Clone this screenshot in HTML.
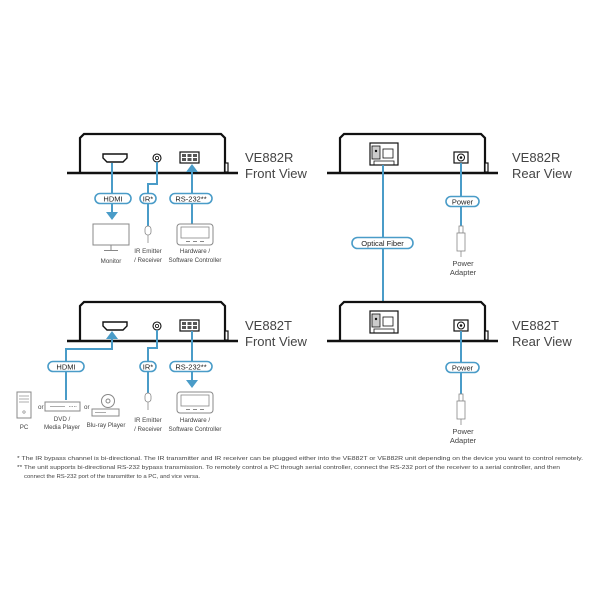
<!DOCTYPE html>
<html><head><meta charset="utf-8"><style>
html,body{margin:0;padding:0;background:#fff}
svg{display:block}
text{font-family:"Liberation Sans",Arial,sans-serif;fill:#333}
.b{stroke:#4a9cc8;stroke-width:2;fill:none}
.pill{fill:#fff;stroke:#4a9cc8;stroke-width:1.6}
.g{fill:none;stroke:#999;stroke-width:1}
.pl{font-size:7.5px;fill:#222}
.lb{font-size:6.2px;fill:#444}
.tt{font-size:13px;fill:#444}
</style></head><body>
<svg width="600" height="600" viewBox="0 0 600 600" xmlns="http://www.w3.org/2000/svg">
<defs>
<g id="dev">
  <path d="M80,174 L80,138 L84,134 L221,134 L225,138 L225,174" fill="#fff" stroke="#111" stroke-width="2.2"/>
  <line x1="67" y1="173" x2="238" y2="173" stroke="#111" stroke-width="2.4"/>
  <rect x="225" y="163" width="3" height="9" fill="#fff" stroke="#111" stroke-width="1.2"/>
</g>
<g id="adp">
  <rect x="460" y="0" width="4" height="7" fill="#fff" stroke="#888" stroke-width="0.8"/>
  <rect x="458" y="7" width="8" height="18" fill="#fff" stroke="#888" stroke-width="0.8"/>
  <line x1="462" y1="25" x2="462" y2="31" stroke="#888" stroke-width="0.8"/>
</g>
<g id="ctl">
  <rect x="177" y="0" width="36" height="21" rx="3" fill="#fff" stroke="#888" stroke-width="1"/>
  <rect x="181" y="3" width="28" height="11" fill="#fff" stroke="#888" stroke-width="0.8"/>
  <line x1="186" y1="17.5" x2="190" y2="17.5" stroke="#888"/><line x1="193" y1="17.5" x2="197" y2="17.5" stroke="#888"/><line x1="200" y1="17.5" x2="204" y2="17.5" stroke="#888"/>
</g>
<g id="ire">
  <rect x="145" y="0" width="6" height="9" rx="3" fill="#fff" stroke="#888" stroke-width="0.8"/>
  <line x1="148" y1="9" x2="148" y2="17" stroke="#888" stroke-width="0.8"/>
</g>
<g id="fport">
  <rect x="370" y="143" width="28" height="22" fill="#fff" stroke="#111" stroke-width="1.2"/>
  <rect x="372" y="146" width="8" height="13" fill="#ccc" stroke="#111" stroke-width="0.8"/>
  <circle cx="376" cy="151" r="1.2" fill="#111"/>
  <rect x="383" y="149" width="10" height="9" fill="#fff" stroke="#111" stroke-width="0.8"/>
  <path d="M374,165 L374,161 L394,161 L394,165" fill="none" stroke="#111" stroke-width="0.8"/>
</g>
<g id="pport">
  <rect x="454" y="152" width="14" height="11" fill="#fff" stroke="#111" stroke-width="1.2"/>
  <circle cx="461" cy="157.5" r="3.5" fill="#fff" stroke="#111" stroke-width="1"/>
  <circle cx="461" cy="157.5" r="1.3" fill="#111"/>
</g>
<g id="fports">
  <path d="M103,154 L127,154 L127,158 L123,162 L107,162 L103,158 Z" fill="#fff" stroke="#111" stroke-width="1.4"/>
  <circle cx="157" cy="158" r="4" fill="#fff" stroke="#111" stroke-width="1.1"/>
  <circle cx="157" cy="158" r="1.6" fill="#fff" stroke="#111" stroke-width="0.8"/>
  <rect x="180" y="152" width="19" height="11" fill="#fff" stroke="#111" stroke-width="1.2"/>
  <rect x="182" y="154" width="4" height="3" fill="#555"/><rect x="187.5" y="154" width="4" height="3" fill="#555"/><rect x="193" y="154" width="4" height="3" fill="#555"/>
  <rect x="182" y="158" width="4" height="3" fill="#555"/><rect x="187.5" y="158" width="4" height="3" fill="#555"/><rect x="193" y="158" width="4" height="3" fill="#555"/>
</g>
</defs>

<!-- Top left -->
<use href="#dev"/><use href="#fports"/>
<text class="tt" x="245" y="162">VE882R</text><text class="tt" x="245" y="178">Front View</text>
<line class="b" x1="112" y1="163" x2="112" y2="213"/>
<path d="M106,212 L118,212 L112,220 Z" fill="#4a9cc8"/>
<polyline class="b" points="157,162 157,184 148,184 148,226"/>
<line class="b" x1="192" y1="224" x2="192" y2="171"/>
<path d="M186,172 L198,172 L192,164 Z" fill="#4a9cc8"/>
<rect class="pill" x="95" y="193.5" width="36" height="10" rx="5"/><text class="pl" x="113" y="201.3" text-anchor="middle">HDMI</text>
<rect class="pill" x="140" y="193.5" width="16" height="10" rx="5"/><text class="pl" x="148" y="201.3" text-anchor="middle">IR*</text>
<rect class="pill" x="170" y="193.5" width="42" height="10" rx="5"/><text class="pl" x="191" y="201.3" text-anchor="middle">RS-232**</text>
<rect x="93" y="224" width="36" height="21" fill="#fff" stroke="#888"/>
<line x1="111" y1="245" x2="111" y2="250" stroke="#888"/><line x1="104" y1="250.5" x2="118" y2="250.5" stroke="#888"/>
<text class="lb" x="111" y="263" text-anchor="middle">Monitor</text>
<use href="#ire" transform="translate(0,226)"/>
<text class="lb" x="148" y="253" text-anchor="middle">IR Emitter</text><text class="lb" x="148" y="262" text-anchor="middle">/ Receiver</text>
<use href="#ctl" transform="translate(0,224)"/>
<text class="lb" x="195" y="253" text-anchor="middle">Hardware /</text><text class="lb" x="195" y="262" text-anchor="middle">Software Controller</text>

<!-- Top right -->
<use href="#dev" transform="translate(260,0)"/><use href="#fport"/><use href="#pport"/>
<text class="tt" x="512" y="162">VE882R</text><text class="tt" x="512" y="178">Rear View</text>
<line class="b" x1="383" y1="165" x2="383" y2="310"/>
<line class="b" x1="461" y1="163" x2="461" y2="226"/>
<rect class="pill" x="446" y="196.5" width="33" height="10" rx="5"/><text class="pl" x="462.5" y="204.3" text-anchor="middle">Power</text>
<rect class="pill" x="352" y="237.5" width="61" height="11" rx="5.5"/><text class="pl" x="382.5" y="245.8" text-anchor="middle">Optical Fiber</text>
<use href="#adp" transform="translate(-1,226)"/>
<text class="lb" x="463" y="266" text-anchor="middle" style="font-size:7.5px">Power</text><text class="lb" x="463" y="275" text-anchor="middle" style="font-size:7.5px">Adapter</text>

<!-- Bottom left -->
<g transform="translate(0,168)"><use href="#dev"/><use href="#fports"/></g>
<text class="tt" x="245" y="330">VE882T</text><text class="tt" x="245" y="346">Front View</text>
<polyline class="b" points="112,338 112,349 66,349 66,400"/>
<path d="M106,339 L118,339 L112,331 Z" fill="#4a9cc8"/>
<polyline class="b" points="157,330 157,348 148,348 148,393"/>
<line class="b" x1="192" y1="331" x2="192" y2="381"/>
<path d="M186,380 L198,380 L192,388 Z" fill="#4a9cc8"/>
<rect class="pill" x="48" y="361.5" width="36" height="10" rx="5"/><text class="pl" x="66" y="369.3" text-anchor="middle">HDMI</text>
<rect class="pill" x="140" y="361.5" width="16" height="10" rx="5"/><text class="pl" x="148" y="369.3" text-anchor="middle">IR*</text>
<rect class="pill" x="170" y="361.5" width="42" height="10" rx="5"/><text class="pl" x="191" y="369.3" text-anchor="middle">RS-232**</text>
<rect x="17" y="392" width="14" height="26" fill="#fff" stroke="#888"/>
<line x1="19" y1="396" x2="29" y2="396" stroke="#888" stroke-width="0.7"/><line x1="19" y1="399" x2="29" y2="399" stroke="#888" stroke-width="0.7"/><line x1="19" y1="402" x2="29" y2="402" stroke="#888" stroke-width="0.7"/>
<circle cx="24" cy="412" r="1.2" fill="none" stroke="#888" stroke-width="0.7"/>
<text class="lb" x="24" y="429" text-anchor="middle">PC</text>
<text class="lb" x="38" y="409">or</text>
<rect x="45" y="402" width="35" height="9" fill="#fff" stroke="#888"/><line x1="50" y1="406.5" x2="65" y2="406.5" stroke="#888" stroke-width="0.7"/><line x1="69" y1="406.5" x2="77" y2="406.5" stroke="#888" stroke-width="0.7" stroke-dasharray="1.5,1"/>
<text class="lb" x="62" y="421" text-anchor="middle">DVD /</text><text class="lb" x="62" y="429" text-anchor="middle">Media Player</text>
<text class="lb" x="84" y="409">or</text>
<circle cx="108" cy="401" r="6.5" fill="#fff" stroke="#888"/><circle cx="108" cy="401" r="2" fill="#fff" stroke="#888"/>
<rect x="92" y="409" width="27" height="7" fill="#fff" stroke="#888"/><line x1="95" y1="412.5" x2="106" y2="412.5" stroke="#888" stroke-width="0.7"/>
<text class="lb" x="106" y="427" text-anchor="middle">Blu-ray Player</text>
<use href="#ire" transform="translate(0,393)"/>
<text class="lb" x="148" y="422" text-anchor="middle">IR Emitter</text><text class="lb" x="148" y="431" text-anchor="middle">/ Receiver</text>
<use href="#ctl" transform="translate(0,392)"/>
<text class="lb" x="195" y="422" text-anchor="middle">Hardware /</text><text class="lb" x="195" y="431" text-anchor="middle">Software Controller</text>

<!-- Bottom right -->
<g transform="translate(0,168)"><use href="#dev" transform="translate(260,0)"/><use href="#fport"/><use href="#pport"/></g>
<text class="tt" x="512" y="330">VE882T</text><text class="tt" x="512" y="346">Rear View</text>
<line class="b" x1="461" y1="331" x2="461" y2="394"/>
<rect class="pill" x="446" y="362.5" width="33" height="10" rx="5"/><text class="pl" x="462.5" y="370.3" text-anchor="middle">Power</text>
<use href="#adp" transform="translate(-1,394)"/>
<text class="lb" x="463" y="434" text-anchor="middle" style="font-size:7.5px">Power</text><text class="lb" x="463" y="443" text-anchor="middle" style="font-size:7.5px">Adapter</text>

<!-- Footnotes -->
<text class="lb" x="17" y="460" textLength="566" lengthAdjust="spacingAndGlyphs" style="font-size:5.8px">* The IR bypass channel is bi-directional. The IR transmitter and IR receiver can be plugged either into the VE882T or VE882R unit depending on the device you want to control remotely.</text>
<text class="lb" x="17" y="469" textLength="543" lengthAdjust="spacingAndGlyphs" style="font-size:5.8px">** The unit supports bi-directional RS-232 bypass transmission. To remotely control a PC through serial controller, connect the RS-232 port of the receiver to a serial controller, and then</text>
<text class="lb" x="24" y="478" textLength="176" lengthAdjust="spacingAndGlyphs" style="font-size:5.8px">connect the RS-232 port of the transmitter to a PC, and vice versa.</text>
</svg>
</body></html>
